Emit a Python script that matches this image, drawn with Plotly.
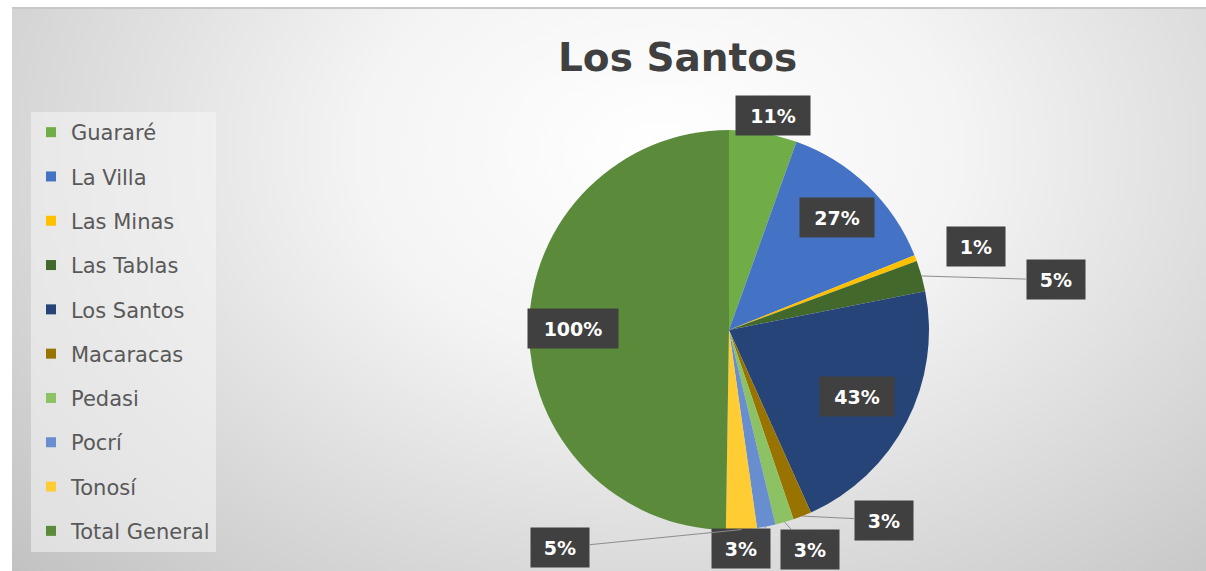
import math
import plotly.graph_objects as go

# ---------------- data ----------------
municipios = ["Guararé", "La Villa", "Las Minas", "Las Tablas", "Los Santos",
              "Macaracas", "Pedasi", "Pocrí", "Tonosí", "Total General"]
valores = [11, 27, 1, 5, 43, 3, 3, 3, 5, 100]
colores = ["#70AD47", "#4472C4", "#FFC000", "#43682B", "#264478",
           "#997300", "#8CC264", "#698ED0", "#FFCD33", "#5A8A3A"]
titulo = "Los Santos"

# ---------------- layout constants ----------------
W, H = 1206, 571
CX, CY, R = 729, 330, 200          # pie centre / radius in pixels

# label placement (style only): (kind, radial factor, dx, dy, leader)
placement = [
    ("edge", 1.0, 10, -17, False),
    ("in", 0.78, 0, 0, False),
    ("edge", 1.0, 60, -12, False),
    ("edge", 1.0, 134, 4, True),
    ("in", 0.72, 0, 0, False),
    ("edge", 1.0, 82, 4, True),
    ("edge", 1.0, 25, 27, True),
    ("edge", 1.0, -25, 22, True),
    ("edge", 1.0, -181, 18, True),
    ("in", 0.78, 0, 0, False),
]


def px2paper(x, y):
    return x / W, 1 - y / H


fig = go.Figure()

# background radial gradient
GX, GY = 660, 150
fig.add_trace(go.Scatter(
    x=[GX - 1000, GX + 1000, GX + 1000, GX - 1000, GX - 1000],
    y=[GY - 700, GY - 700, GY + 700, GY + 700, GY - 700],
    mode="lines", line=dict(width=0), fill="toself",
    fillgradient=dict(type="radial",
                      colorscale=[[0, "#FFFFFF"], [0.3, "#F4F4F4"], [1, "#B8B8B8"]]),
    hoverinfo="skip", showlegend=False))

# pie
x0, y1 = px2paper(CX - R, CY - R)
x1, y0 = px2paper(CX + R, CY + R)
fig.add_trace(go.Pie(
    labels=municipios, values=valores, sort=False, direction="clockwise",
    rotation=0, textinfo="none", marker=dict(colors=colores, line=dict(width=0)),
    domain=dict(x=[x0, x1], y=[y0, y1]), showlegend=False,
    hovertemplate="%{label}: %{value}<extra></extra>"))

# legend entries
for n, c in zip(municipios, colores):
    fig.add_trace(go.Scatter(
        x=[None], y=[None], mode="markers", name=n, legendgroup=n,
        marker=dict(symbol="square", size=10, color=c), showlegend=True))

# labels (computed from the data)
total = sum(valores)
general = valores[-1]
cum = 0
annotations = []
for v, (kind, f, dx, dy, leader) in zip(valores, placement):
    mid = (cum + v / 2) / total * 2 * math.pi
    cum += v
    rr = R * f
    ex = CX + rr * math.sin(mid)
    ey = CY - rr * math.cos(mid)
    txt = f"{round(v / general * 100)}%"
    base = dict(text=f"<b>{txt}</b>", xref="paper", yref="paper",
                font=dict(family="DejaVu Sans", size=19, color="white"),
                bgcolor="#404040", borderpad=6, width=16 * len(txt) + 14, height=27,
                align="center", valign="middle")
    if leader:
        px_, py_ = px2paper(ex, ey)
        base.update(x=px_, y=py_, showarrow=True, ax=dx, ay=dy, arrowhead=0,
                    arrowwidth=1, arrowcolor="#8C8C8C", standoff=0, startstandoff=0)
    else:
        px_, py_ = px2paper(ex + dx, ey + dy)
        base.update(x=px_, y=py_, showarrow=False, xanchor="center", yanchor="middle")
    annotations.append(base)

annotations.append(dict(text=f"<b>{titulo}</b>", xref="paper", yref="paper",
                        x=677 / W, y=1 - 57 / H, showarrow=False,
                        xanchor="center", yanchor="middle",
                        font=dict(family="DejaVu Sans", size=39, color="#404040")))

fig.update_layout(
    width=W, height=H, autosize=False,
    margin=dict(l=0, r=0, t=0, b=0),
    paper_bgcolor="white", plot_bgcolor="rgba(0,0,0,0)",
    xaxis=dict(domain=[12 / W, 1], range=[12, W], visible=False, fixedrange=True),
    yaxis=dict(domain=[0, 1 - 8 / H], range=[H, 8], visible=False, fixedrange=True),
    annotations=annotations,
    showlegend=True,
    legend=dict(x=31 / W, y=1 - 112 / H, xanchor="left", yanchor="top",
                bgcolor="rgba(246,246,246,0.55)", borderwidth=0,
                font=dict(family="DejaVu Sans", size=21, color="#595959"),
                tracegroupgap=14, itemclick=False, itemdoubleclick=False),
    shapes=[dict(type="line", xref="paper", yref="paper", x0=12 / W, x1=1,
                 y0=1 - 8 / H, y1=1 - 8 / H, line=dict(color="#C8C8C8", width=2))],
)

fig.write_html("out.html", config={"displayModeBar": False},
               post_script="document.body.style.margin='0px';document.body.style.overflow='hidden';")
